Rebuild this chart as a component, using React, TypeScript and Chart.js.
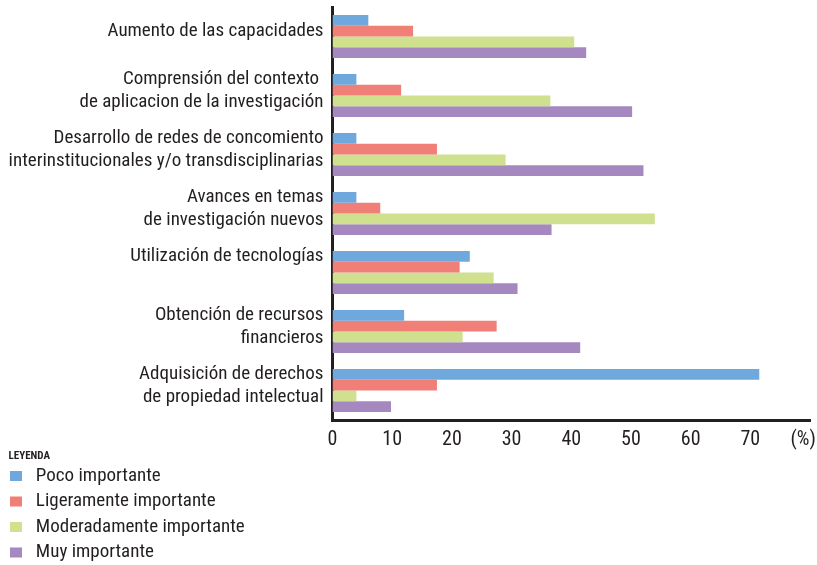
import { useEffect, useRef } from "react";
import { Chart, registerables } from "chart.js";

Chart.register(...registerables);

const categories: string[][] = [
  ["Aumento de las capacidades"],
  ["Comprensión del contexto ", "de aplicacion de la investigación"],
  ["Desarrollo de redes de concomiento", "interinstitucionales y/o transdisciplinarias"],
  ["Avances en temas", "de investigación nuevos"],
  ["Utilización de tecnologías", ""],
  ["Obtención de recursos", "financieros"],
  ["Adquisición de derechos", "de propiedad intelectual"],
];

const seriesNames = [
  "Poco importante",
  "Ligeramente importante",
  "Moderadamente importante",
  "Muy importante",
];

const pocoImportante = [6, 4, 4, 4, 23, 12, 71.5];
const ligeramenteImportante = [13.5, 11.5, 17.5, 8, 21.3, 27.5, 17.5];
const moderadamenteImportante = [40.5, 36.5, 29, 54, 27, 21.8, 4];
const muyImportante = [42.5, 50.2, 52.1, 36.7, 31, 41.5, 9.8];

const seriesColors = ["#6fa8dc", "#f07f78", "#cfe08f", "#a588c0"];

const xMin = 0;
const xMax = 80;
const xStep = 10;
const xUnitLabel = "(%)";
const legendTitle = "LEYENDA";

const FONT = "'Roboto Condensed', 'Liberation Sans', sans-serif";
const TEXT = "#231f20";

export default function App() {
  const ref = useRef<HTMLCanvasElement>(null);

  useEffect(() => {
    const series = [pocoImportante, ligeramenteImportante, moderadamenteImportante, muyImportante];
    const chart = new Chart(ref.current!, {
      type: "bar",
      data: {
        labels: categories,
        datasets: series.map((data, i) => ({
          label: seriesNames[i],
          data,
          backgroundColor: seriesColors[i],
          borderWidth: 0,
          categoryPercentage: 0.73,
          barPercentage: 1,
        })),
      },
      options: {
        indexAxis: "y",
        animation: false,
        responsive: true,
        maintainAspectRatio: false,
        layout: { padding: { left: 3.5, right: 7, top: 7, bottom: 0 } },
        scales: {
          x: {
            min: xMin,
            max: xMax,
            ticks: {
              stepSize: xStep,
              padding: 8,
              color: TEXT,
              font: { family: FONT, size: 20 },
              maxRotation: 0,
              autoSkip: false,
              callback: (v: any) => (Number(v) === xMax ? xUnitLabel + "   " : String(v)),
            },
            grid: { display: false, drawTicks: false },
            border: { display: true, color: TEXT, width: 3 },
            afterFit: (s: any) => {
              s.height = 31;
              s.paddingRight = 0;
              s.paddingLeft = 0;
            },
          },
          y: {
            ticks: {
              padding: 9,
              labelOffset: -5,
              color: TEXT,
              font: { family: FONT, size: 19, lineHeight: 1.2 },
              autoSkip: false,
            },
            grid: { display: false, drawTicks: false },
            border: { display: true, color: TEXT, width: 3 },
            afterFit: (s: any) => {
              s.width = 329;
              s.paddingTop = 0;
              s.paddingBottom = 0;
            },
          },
        },
        plugins: {
          legend: {
            position: "bottom",
            align: "start",
            title: {
              display: true,
              text: "  " + legendTitle,
              position: "start",
              color: TEXT,
              font: { family: FONT, size: 11, weight: "bold" },
              padding: { top: 0, bottom: -4.2 },
            },
            labels: {
              boxWidth: 12,
              boxHeight: 10,
              padding: 6.5,
              color: TEXT,
              font: { family: FONT, size: 19 },
              generateLabels: (c: any) =>
                Chart.defaults.plugins.legend.labels
                  .generateLabels(c)
                  .map((l: any) => ({ ...l, text: " " + l.text + " ".repeat(140) })),
            },
          },
          tooltip: { enabled: false },
        },
      },
    });
    return () => chart.destroy();
  }, []);

  return (
    <div
      style={{
        position: "absolute",
        left: 0,
        top: 0,
        width: 817,
        height: 565,
        overflow: "hidden",
        background: "#fff",
      }}
    >
      <div style={{ position: "relative", width: 817, height: 572 }}>
        <canvas ref={ref} />
      </div>
    </div>
  );
}
